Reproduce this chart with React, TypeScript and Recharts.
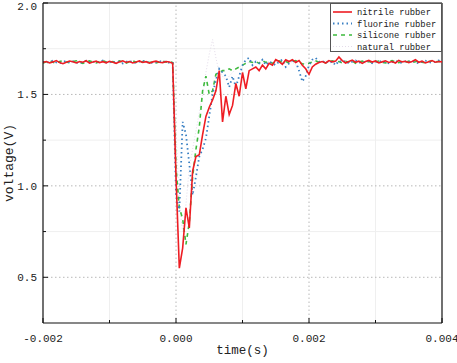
import React from "react";
import { LineChart, Line, XAxis, YAxis, ReferenceLine } from "recharts";

// sample times (s)
const times = [
  -0.002, -0.00195, -0.0019, -0.00185, -0.0018, -0.00175, -0.0017, -0.00165, -0.0016, -0.00155,
  -0.0015, -0.00145, -0.0014, -0.00135, -0.0013, -0.00125, -0.0012, -0.00115, -0.0011, -0.00105,
  -0.001, -0.00095, -0.0009, -0.00085, -0.0008, -0.00075, -0.0007, -0.00065, -0.0006, -0.00055,
  -0.0005, -0.00045, -0.0004, -0.00035, -0.0003, -0.00025, -0.0002, -0.00015, -0.0001, -0.00005,
  0, 0.00005, 0.0001, 0.00015, 0.0002, 0.00025, 0.0003, 0.00035, 0.0004, 0.00045,
  0.0005, 0.00055, 0.0006, 0.00065, 0.0007, 0.00075, 0.0008, 0.00085, 0.0009, 0.00095,
  0.001, 0.00105, 0.0011, 0.00115, 0.0012, 0.00125, 0.0013, 0.00135, 0.0014, 0.00145,
  0.0015, 0.00155, 0.0016, 0.00165, 0.0017, 0.00175, 0.0018, 0.00185, 0.0019, 0.00195,
  0.002, 0.00205, 0.0021, 0.00215, 0.0022, 0.00225, 0.0023, 0.00235, 0.0024, 0.00245,
  0.0025, 0.00255, 0.0026, 0.00265, 0.0027, 0.00275, 0.0028, 0.00285, 0.0029, 0.00295,
  0.003, 0.00305, 0.0031, 0.00315, 0.0032, 0.00325, 0.0033, 0.00335, 0.0034, 0.00345,
  0.0035, 0.00355, 0.0036, 0.00365, 0.0037, 0.00375, 0.0038, 0.00385, 0.0039, 0.00395,
  0.004
];

// voltage (V) per series
const nitrile = [
  1.675, 1.68, 1.672, 1.678, 1.685, 1.674, 1.668, 1.676, 1.683, 1.679,
  1.672, 1.68, 1.676, 1.684, 1.671, 1.677, 1.682, 1.674, 1.679, 1.673,
  1.681, 1.676, 1.67, 1.678, 1.684, 1.675, 1.68, 1.672, 1.677, 1.683,
  1.675, 1.679, 1.671, 1.678, 1.682, 1.676, 1.674, 1.68, 1.677, 1.67,
  1.05, 0.55, 0.66, 0.88, 0.77, 1.08, 1.16, 1.17, 1.28, 1.38,
  1.43, 1.47, 1.52, 1.63, 1.35, 1.49, 1.39, 1.44, 1.56, 1.49,
  1.62, 1.53, 1.63, 1.64, 1.65, 1.63, 1.66, 1.64, 1.67, 1.66,
  1.69, 1.68, 1.665, 1.69, 1.68, 1.69, 1.675, 1.685, 1.66, 1.64,
  1.61, 1.65, 1.665, 1.675, 1.68, 1.672, 1.685, 1.678, 1.682, 1.705,
  1.685, 1.672, 1.68, 1.688, 1.676, 1.682, 1.67, 1.68, 1.686, 1.677,
  1.683, 1.672, 1.678, 1.684, 1.675, 1.68, 1.672, 1.686, 1.678, 1.681,
  1.674, 1.68, 1.69, 1.676, 1.682, 1.672, 1.679, 1.685, 1.676, 1.68,
  1.678
];

const fluorine = [
  1.678, 1.672, 1.68, 1.685, 1.675, 1.67, 1.678, 1.683, 1.674, 1.68,
  1.676, 1.668, 1.679, 1.684, 1.675, 1.681, 1.673, 1.678, 1.686, 1.674,
  1.679, 1.671, 1.682, 1.677, 1.669, 1.678, 1.684, 1.676, 1.672, 1.68,
  1.685, 1.674, 1.679, 1.671, 1.677, 1.683, 1.675, 1.68, 1.673, 1.672,
  0.95, 0.86, 1.35, 1.28, 1.12, 0.95, 1.05, 1.16, 1.2, 1.26,
  1.38, 1.5, 1.58, 1.64, 1.62, 1.6, 1.54, 1.6, 1.54, 1.6,
  1.66, 1.69, 1.7, 1.66, 1.68, 1.67, 1.69, 1.66, 1.68, 1.67,
  1.66, 1.68, 1.69, 1.65, 1.67, 1.685, 1.68, 1.63, 1.57, 1.6,
  1.66, 1.69, 1.7, 1.68, 1.675, 1.685, 1.67, 1.68, 1.66, 1.685,
  1.676, 1.684, 1.67, 1.679, 1.686, 1.672, 1.68, 1.675, 1.683, 1.671,
  1.678, 1.685, 1.674, 1.68, 1.67, 1.677, 1.684, 1.676, 1.672, 1.681,
  1.678, 1.686, 1.675, 1.67, 1.68, 1.684, 1.677, 1.673, 1.68, 1.686,
  1.679
];

const silicone = [
  1.672, 1.679, 1.684, 1.676, 1.671, 1.68, 1.685, 1.677, 1.673, 1.68,
  1.684, 1.675, 1.67, 1.678, 1.683, 1.676, 1.672, 1.68, 1.686, 1.677,
  1.673, 1.68, 1.675, 1.683, 1.678, 1.671, 1.679, 1.684, 1.676, 1.672,
  1.68, 1.685, 1.674, 1.679, 1.672, 1.678, 1.683, 1.676, 1.68, 1.674,
  1.1, 0.88, 0.82, 0.68, 0.8, 1.05, 1.2, 1.32, 1.52, 1.6,
  1.5, 1.52, 1.61, 1.62, 1.63, 1.63, 1.64, 1.63, 1.64, 1.65,
  1.66, 1.67, 1.68, 1.675, 1.68, 1.67, 1.685, 1.675, 1.68, 1.67,
  1.678, 1.684, 1.676, 1.68, 1.672, 1.679, 1.685, 1.674, 1.668, 1.665,
  1.67, 1.678, 1.683, 1.676, 1.68, 1.672, 1.679, 1.684, 1.675, 1.68,
  1.673, 1.681, 1.676, 1.684, 1.67, 1.678, 1.682, 1.675, 1.68, 1.674,
  1.679, 1.683, 1.676, 1.672, 1.68, 1.685, 1.677, 1.674, 1.68, 1.676,
  1.682, 1.675, 1.679, 1.684, 1.676, 1.672, 1.68, 1.683, 1.677, 1.681,
  1.678
];

const natural = [
  1.68, 1.676, 1.682, 1.674, 1.679, 1.684, 1.675, 1.68, 1.672, 1.678,
  1.683, 1.676, 1.68, 1.674, 1.679, 1.685, 1.676, 1.672, 1.68, 1.678,
  1.674, 1.682, 1.677, 1.68, 1.673, 1.679, 1.684, 1.676, 1.68, 1.675,
  1.679, 1.674, 1.683, 1.677, 1.68, 1.672, 1.679, 1.685, 1.676, 1.678,
  1.3, 0.9, 0.75, 0.9, 1.1, 1.2, 1.3, 1.4, 1.5, 1.62,
  1.72, 1.8, 1.7, 1.62, 1.6, 1.58, 1.6, 1.62, 1.64, 1.65,
  1.66, 1.67, 1.675, 1.68, 1.672, 1.678, 1.684, 1.676, 1.68, 1.674,
  1.679, 1.683, 1.676, 1.68, 1.674, 1.678, 1.66, 1.65, 1.66, 1.672,
  1.68, 1.676, 1.682, 1.674, 1.679, 1.684, 1.675, 1.68, 1.672, 1.678,
  1.683, 1.676, 1.68, 1.674, 1.679, 1.685, 1.676, 1.672, 1.68, 1.678,
  1.674, 1.682, 1.677, 1.68, 1.673, 1.679, 1.684, 1.676, 1.68, 1.675,
  1.679, 1.674, 1.683, 1.677, 1.68, 1.672, 1.679, 1.685, 1.676, 1.678,
  1.68
];

const xMajor = [-0.002, 0, 0.002, 0.004];
const xMinor = [-0.001, 0.001, 0.003];
const yMajor = [0.5, 1.0, 1.5, 2.0];
const yMinor = [0.75, 1.25, 1.75];

const legendItems = [
  { name: "nitrile rubber", color: "#ee1d23", dash: undefined, width: 1.6 },
  { name: "fluorine rubber", color: "#3a80c3", dash: "1.5 3", width: 1.8 },
  { name: "silicone rubber", color: "#3dba3d", dash: "4 4", width: 1.6 },
  { name: "natural rubber", color: "#e4dcea", dash: "1 2", width: 1 }
];

const data = times.map((t, i) => ({
  t,
  nitrile: nitrile[i],
  fluorine: fluorine[i],
  silicone: silicone[i],
  natural: natural[i]
}));

const FONT = "'Liberation Mono', monospace";
const X0 = -0.002;
const X1 = 0.004;
const Y0 = 0.25;
const Y1 = 2.0;
// tick lengths in data units (plot is ~399 x 320 px)
const xTickMaj = (5 * (Y1 - Y0)) / 320;
const xTickMin = (3 * (Y1 - Y0)) / 320;
const yTickMaj = (5 * (X1 - X0)) / 399;
const yTickMin = (3 * (X1 - X0)) / 399;

export default function App() {
  return (
    <div style={{ position: "absolute", left: 0, top: 0, width: 457, height: 363, background: "#fff" }}>
      <LineChart width={457} height={363} data={data} margin={{ top: 3, right: 15, bottom: 0, left: 0 }}>
        {/* minor grid */}
        {xMinor.map((v) => (
          <ReferenceLine key={"xm" + v} x={v} stroke="#efefef" strokeWidth={1} />
        ))}
        {yMinor.map((v) => (
          <ReferenceLine key={"ym" + v} y={v} stroke="#efefef" strokeWidth={1} />
        ))}
        {/* major grid */}
        {xMajor.slice(1, 3).map((v) => (
          <ReferenceLine key={"xg" + v} x={v} stroke="#b8b8b8" strokeDasharray="1.5 2.5" />
        ))}
        {yMajor.slice(0, 3).map((v) => (
          <ReferenceLine key={"yg" + v} y={v} stroke="#b8b8b8" strokeDasharray="1.5 2.5" />
        ))}
        <XAxis
          dataKey="t"
          type="number"
          domain={[X0, X1]}
          ticks={xMajor}
          allowDataOverflow
          height={40}
          tickLine={false}
          tickSize={6}
          tickMargin={5}
          axisLine={{ stroke: "#111", strokeWidth: 1.2 }}
          tick={{ fill: "#222", fontSize: 11, fontFamily: FONT }}
          tickFormatter={(v: number) => v.toFixed(3)}
          label={{ value: "time(s)", position: "insideBottom", offset: 9, fill: "#222", fontSize: 12.5, fontFamily: FONT }}
        />
        <YAxis
          type="number"
          domain={[Y0, Y1]}
          ticks={yMajor}
          allowDataOverflow
          width={43}
          tickLine={false}
          tickSize={4}
          tickMargin={2}
          axisLine={{ stroke: "#111", strokeWidth: 1.2 }}
          tick={{ fill: "#222", fontSize: 11, fontFamily: FONT }}
          tickFormatter={(v: number) => v.toFixed(1)}
          label={{
            value: "voltage(V)",
            angle: -90,
            position: "insideLeft",
            offset: 8,
            fill: "#222",
            fontSize: 13,
            fontFamily: FONT,
            style: { textAnchor: "middle" }
          }}
        />
        {/* frame */}
        <ReferenceLine y={Y1} stroke="#111" strokeWidth={1.2} />
        <ReferenceLine x={X1} stroke="#111" strokeWidth={1.2} />
        {/* inward ticks */}
        {xMajor.map((v) => (
          <ReferenceLine key={"xt" + v} segment={[{ x: v, y: Y0 }, { x: v, y: Y0 + xTickMaj }]} stroke="#111" />
        ))}
        {xMinor.map((v) => (
          <ReferenceLine key={"xtm" + v} segment={[{ x: v, y: Y0 }, { x: v, y: Y0 + xTickMin }]} stroke="#111" />
        ))}
        {yMajor.map((v) => (
          <ReferenceLine key={"yt" + v} segment={[{ x: X0, y: v }, { x: X0 + yTickMaj, y: v }]} stroke="#111" />
        ))}
        {yMinor.map((v) => (
          <ReferenceLine key={"ytm" + v} segment={[{ x: X0, y: v }, { x: X0 + yTickMin, y: v }]} stroke="#111" />
        ))}
        <Line dataKey="natural" stroke="#e4dcea" strokeWidth={1} strokeDasharray="1 2" dot={false} isAnimationActive={false} />
        <Line dataKey="silicone" stroke="#3dba3d" strokeWidth={1.6} strokeDasharray="4 4" dot={false} isAnimationActive={false} />
        <Line dataKey="fluorine" stroke="#3a80c3" strokeWidth={1.8} strokeDasharray="1.5 3" dot={false} isAnimationActive={false} />
        <Line dataKey="nitrile" stroke="#ee1d23" strokeWidth={1.6} dot={false} isAnimationActive={false} />
      </LineChart>
      <div
        style={{
          position: "absolute",
          left: 330,
          top: 3,
          width: 112,
          height: 49,
          border: "1px solid #555",
          background: "#fff",
          boxSizing: "border-box"
        }}
      >
        <svg width={112} height={49} style={{ position: "absolute", left: -1, top: -1 }}>
          {legendItems.map((it, i) => {
            const y = 9 + i * 11.5;
            return (
              <g key={it.name}>
                <line x1={3} x2={22} y1={y} y2={y} stroke={it.color} strokeWidth={it.width} strokeDasharray={it.dash} />
                <text x={27} y={y + 3.3} fontSize={8.8} fontFamily={FONT} fill="#222">
                  {it.name}
                </text>
              </g>
            );
          })}
        </svg>
      </div>
    </div>
  );
}
